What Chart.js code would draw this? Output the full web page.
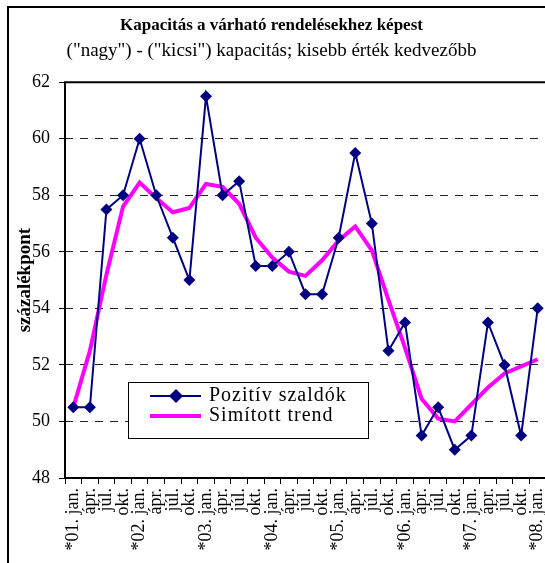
<!DOCTYPE html>
<html>
<head>
<meta charset="utf-8">
<script src="https://cdn.jsdelivr.net/npm/chart.js@4/dist/chart.umd.min.js"></script>
<style>
html,body{margin:0;padding:0;background:#fff;overflow:hidden;}
#wrap{width:552px;height:563px;}
</style>
</head>
<body>
<div id="wrap"><canvas id="c" width="552" height="563"></canvas></div>
<script>
const categories = ["*01. jan.","ápr.","júl.","okt.","*02. jan.","ápr.","júl.","okt.","*03. jan.","ápr.","júl.","okt.","*04. jan.","ápr.","júl.","okt.","*05. jan.","ápr.","júl.","okt.","*06. jan.","ápr.","júl.","okt.","*07. jan.","ápr.","júl.","okt.","*08. jan."];
const pozitivSzaldok = [50.5,50.5,57.5,58,60,58,56.5,55,61.5,58,58.5,55.5,55.5,56,54.5,54.5,56.5,59.5,57,52.5,53.5,49.5,50.5,49,49.5,53.5,52,49.5,54];
const simitottTrend = [50.5,52.5,55.2,57.6,58.45,57.9,57.4,57.55,58.4,58.3,57.7,56.5,55.8,55.3,55.15,55.7,56.4,56.9,56.05,54.3,52.6,50.8,50.1,50.0,50.6,51.2,51.7,51.95,52.2];
const yTicks = [48,50,52,54,56,58,60,62];

const SERIF = "'Liberation Serif','Times New Roman',serif";
const NAVY = '#000080';
const MAGENTA = '#FF00FF';

const framePlugin = {
  id: 'frame',
  beforeDraw(chart) {
    const ctx = chart.ctx;
    ctx.save();
    ctx.fillStyle = '#fff';
    ctx.fillRect(0,0,chart.width,chart.height);
    ctx.strokeStyle = '#000';
    ctx.lineWidth = 2;
    ctx.beginPath();
    ctx.moveTo(8, chart.height + 5);
    ctx.lineTo(8, 7);
    ctx.lineTo(chart.width + 5, 7);
    ctx.stroke();
    ctx.restore();
  },
  afterDatasetsDraw(chart) {
    const ctx = chart.ctx;
    const a = chart.chartArea;
    ctx.save();
    ctx.strokeStyle = '#000';
    ctx.lineWidth = 2;
    ctx.beginPath();
    ctx.moveTo(a.left, a.bottom);
    ctx.lineTo(a.left, a.top);
    ctx.lineTo(a.right + 5, a.top);
    ctx.stroke();
    // legend box
    const bx = 128, by = 382, bw = 240, bh = 56;
    ctx.fillStyle = '#fff';
    ctx.fillRect(bx, by, bw, bh);
    ctx.lineWidth = 1;
    ctx.strokeStyle = '#000';
    ctx.strokeRect(bx + 0.5, by + 0.5, bw, bh);
    // entry 1
    ctx.strokeStyle = NAVY;
    ctx.lineWidth = 2;
    ctx.beginPath();
    ctx.moveTo(150, 396); ctx.lineTo(201, 396); ctx.stroke();
    ctx.fillStyle = NAVY;
    ctx.beginPath();
    ctx.moveTo(176, 389); ctx.lineTo(183, 396); ctx.lineTo(176, 403); ctx.lineTo(169, 396); ctx.closePath();
    ctx.fill();
    // entry 2
    ctx.strokeStyle = MAGENTA;
    ctx.lineWidth = 4;
    ctx.beginPath();
    ctx.moveTo(150, 416); ctx.lineTo(201, 416); ctx.stroke();
    ctx.fillStyle = '#000';
    ctx.font = "20px " + SERIF;
    ctx.textBaseline = 'middle';
    ctx.textAlign = 'left';
    try { ctx.letterSpacing = '1px'; } catch(e) {}
    ctx.fillText(chart.data.datasets[0].label, 209, 396);
    ctx.fillText(chart.data.datasets[1].label, 209, 416);
    ctx.restore();
  }
};

new Chart(document.getElementById('c'), {
  type: 'line',
  data: {
    labels: categories,
    datasets: [
      {
        label: 'Pozitív szaldók',
        data: pozitivSzaldok,
        borderColor: NAVY,
        backgroundColor: NAVY,
        borderWidth: 2,
        pointStyle: 'rectRot',
        pointRadius: 6,
        pointBorderWidth: 0,
        tension: 0,
        order: 0
      },
      {
        label: 'Simított trend',
        data: simitottTrend,
        borderColor: MAGENTA,
        backgroundColor: MAGENTA,
        borderWidth: 4,
        pointRadius: 0,
        tension: 0,
        order: 1
      }
    ]
  },
  options: {
    responsive: false,
    animation: false,
    devicePixelRatio: 1,
    layout: { padding: { left: -9, right: 0, top: 0, bottom: 0 } },
    plugins: {
      legend: { display: false },
      tooltip: { enabled: false },
      title: {
        display: true,
        text: 'Kapacitás a várható rendelésekhez képest',
        color: '#000',
        font: { family: SERIF, size: 17, weight: 'bold' },
        padding: { top: 15, bottom: 4 }
      },
      subtitle: {
        display: true,
        text: '("nagy") - ("kicsi") kapacitás; kisebb érték kedvezőbb',
        color: '#000',
        font: { family: SERIF, size: 19 },
        padding: { top: 0, bottom: 20 }
      }
    },
    scales: {
      x: {
        type: 'category',
        offset: true,
        afterFit(s) { s.height = 85; s.paddingLeft = 0; s.paddingRight = 0; },
        grid: {
          display: true,
          offset: true,
          drawOnChartArea: false,
          drawTicks: true,
          tickLength: 6,
          tickColor: '#000',
          tickWidth: 1
        },
        border: { display: true, color: '#000', width: 2 },
        ticks: {
          autoSkip: false,
          minRotation: 90,
          maxRotation: 90,
          padding: 4,
          color: '#000',
          font: { family: SERIF, size: 18 }
        }
      },
      y: {
        min: 48,
        max: 62,
        afterFit(s) { s.width = 74; },
        afterBuildTicks(s) { s.ticks = yTicks.map(v => ({ value: v })); },
        border: { display: false, dash: [8, 7] },
        grid: {
          color: ctx => (ctx.tick && (ctx.tick.value === 48 || ctx.tick.value === 62)) ? 'rgba(0,0,0,0)' : '#222',
          lineWidth: 1,
          drawTicks: true,
          tickLength: 6,
          tickColor: '#000',
          tickWidth: 1,
          tickBorderDash: []
        },
        ticks: {
          padding: 9,
          color: '#000',
          font: { family: SERIF, size: 18 }
        },
        title: {
          display: true,
          text: 'százalékpont',
          color: '#000',
          font: { family: SERIF, size: 19, weight: 'bold' },
          padding: { top: 23, bottom: 0 }
        }
      }
    }
  },
  plugins: [framePlugin]
});
</script>
</body>
</html>
